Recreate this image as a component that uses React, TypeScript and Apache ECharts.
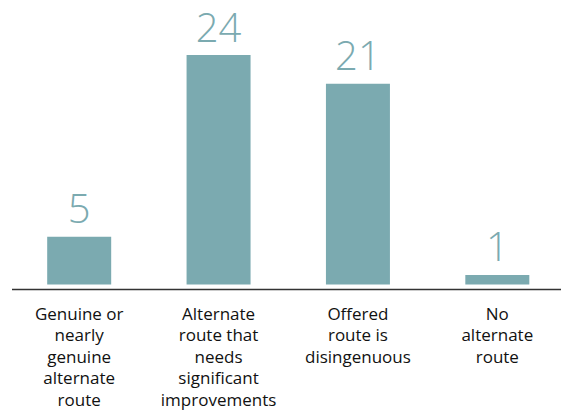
import React, { useEffect, useRef } from "react";
import * as echarts from "echarts";

const categories = [
  "Genuine or\nnearly\ngenuine\nalternate\nroute",
  "Alternate\nroute that\nneeds\nsignificant\nimprovements",
  "Offered\nroute is\ndisingenuous",
  "No\nalternate\nroute",
];
const counts = [5, 24, 21, 1];

const BAR = "#7BAAB0";

export default function App() {
  const ref = useRef<HTMLDivElement>(null);
  useEffect(() => {
    if (!ref.current) return;
    const chart = echarts.init(ref.current, null, { renderer: "svg" });
    chart.setOption({
      animation: false,
      backgroundColor: "#ffffff",
      grid: { left: 9.5, width: 557.5, top: 55, bottom: 121, containLabel: false },
      xAxis: {
        type: "category",
        data: categories,
        axisLine: { show: false },
        axisTick: { show: false },
        axisLabel: {
          interval: 0,
          margin: 18,
          color: "#111111",
          fontFamily: "Open Sans",
          fontSize: 17,
          lineHeight: 21.5,
          align: "center",
        },
      },
      yAxis: {
        type: "value",
        min: 0,
        max: 24,
        show: false,
        splitLine: { show: false },
      },
      graphic: [
        {
          type: "line",
          shape: { x1: 12, y1: 289.5, x2: 561, y2: 289.5 },
          style: { stroke: "#333333", lineWidth: 1.6 },
          z: 10,
        },
      ],
      series: [
        {
          type: "bar",
          data: counts,
          barWidth: 64,
          itemStyle: { color: BAR },
          label: {
            show: true,
            position: "top",
            distance: 9,
            color: BAR,
            fontFamily: "Open Sans",
            fontWeight: 300,
            fontSize: 40,
            lineHeight: 40,
          },
        },
      ],
    });
    return () => chart.dispose();
  }, []);
  return (
    <div
      style={{
        position: "fixed",
        left: 0,
        top: 0,
        width: 561,
        height: 410,
        overflow: "hidden",
        background: "#ffffff",
      }}
    >
      <div ref={ref} style={{ width: 580, height: 410 }} />
    </div>
  );
}
